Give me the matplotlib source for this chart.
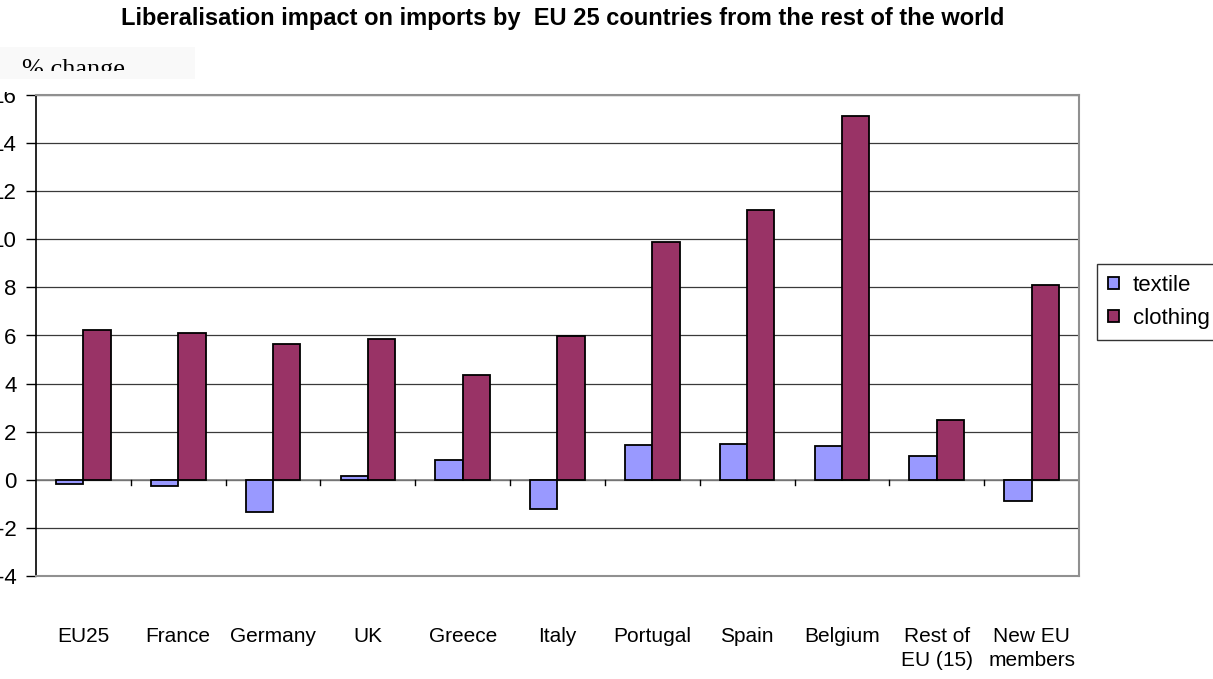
import numpy as np
import matplotlib.pyplot as plt
from matplotlib.patches import Rectangle

categories = ['EU25', 'France', 'Germany', 'UK', 'Greece', 'Italy', 'Portugal',
              'Spain', 'Belgium', 'Rest of\nEU (15)', 'New EU\nmembers']
textile = [-0.17, -0.25, -1.34, 0.15, 0.84, -1.22, 1.45, 1.49, 1.42, 1.01, -0.87]
clothing = [6.21, 6.1, 5.63, 5.84, 4.37, 5.99, 9.89, 11.2, 15.13, 2.49, 8.09]
yticks = [-4, -2, 0, 2, 4, 6, 8, 10, 12, 14, 16]

plt.rcParams['font.family'] = ['Liberation Sans', 'DejaVu Sans']

fig = plt.figure(figsize=(12.13, 6.79), dpi=100)
ax = fig.add_axes([36 / 1213, 1 - 576 / 679, (1079 - 36) / 1213, (576 - 95) / 679])

x = np.arange(len(categories))
w = 0.288
ax.bar(x - w / 2, textile, w, color='#9999FF', edgecolor='black', linewidth=1.3,
       label='textile', zorder=3)
ax.bar(x + w / 2, clothing, w, color='#993366', edgecolor='black', linewidth=1.3,
       label='clothing', zorder=3)

ax.set_xlim(-0.5, len(categories) - 0.5)
ax.set_ylim(-4, 16)
ax.set_yticks(yticks)
ax.set_yticklabels([str(v) for v in yticks], fontsize=16)
ax.yaxis.grid(True, color='#3a3a3a', linewidth=0.9, zorder=0)
ax.tick_params(axis='y', length=7, width=1, pad=7)

# category boundary ticks on the zero line
ax.set_xticks([])
ax.axhline(0, color='#808080', linewidth=1.2, zorder=2)
for b in np.arange(0.5, len(categories) - 0.5, 1.0):
    ax.plot([b, b], [0, -0.22], color='black', linewidth=1, zorder=2)
ax.plot([len(categories) - 0.5] * 2, [0, -0.22], color='black', linewidth=1, zorder=2)

for i, c in enumerate(categories):
    ax.text(i, -6.1, c, ha='center', va='top', fontsize=15, linespacing=1.37)

ax.spines['left'].set_color('black')
ax.spines['left'].set_linewidth(1.2)
for s in ['top', 'right', 'bottom']:
    ax.spines[s].set_color('#909090')
    ax.spines[s].set_linewidth(1.5)

fig.text(563 / 1213, 1 - 19 / 679, 'Liberalisation impact on imports by  EU 25 countries from the rest of the world',
         ha='center', va='center', fontsize=17, fontweight='bold')

# clipped "% change" label box
fig.patches.append(Rectangle((0, 1 - 79 / 679), 195 / 1213, 32 / 679,
                             transform=fig.transFigure, facecolor='#f9f9f9',
                             edgecolor='none', zorder=1))
fig.text(22 / 1213, 1 - 76 / 679, '% change', family=['Liberation Serif', 'DejaVu Serif'],
         fontsize=19, ha='left', va='baseline', zorder=2)
fig.patches.append(Rectangle((0, 1 - 79 / 679), 195 / 1213, 8 / 679,
                             transform=fig.transFigure, facecolor='#f9f9f9',
                             edgecolor='none', zorder=3))
fig.patches.append(Rectangle((0, 1 - 92 / 679), 195 / 1213, 13 / 679,
                             transform=fig.transFigure, facecolor='white',
                             edgecolor='none', zorder=3))

leg = ax.legend(loc='upper left', bbox_to_anchor=(1097 / 1213, 1 - 264 / 679),
                bbox_transform=fig.transFigure, fontsize=16, frameon=True,
                fancybox=False, borderpad=0.5, handlelength=0.5, handleheight=0.45,
                handletextpad=0.6, labelspacing=0.55, borderaxespad=0)
leg.get_frame().set_edgecolor('black')
leg.get_frame().set_linewidth(1.0)

fig.savefig('out.png', dpi=100)
